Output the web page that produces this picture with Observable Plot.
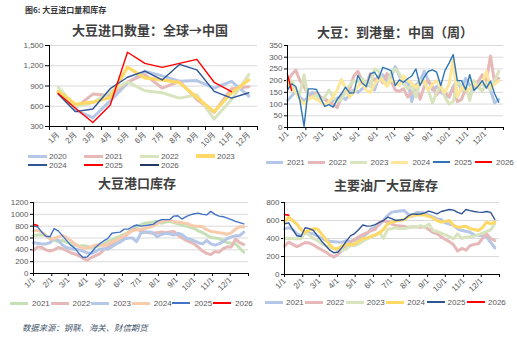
<!DOCTYPE html>
<html><head><meta charset="utf-8">
<script src="https://cdn.jsdelivr.net/npm/d3@7"></script>
<script src="https://cdn.jsdelivr.net/npm/@observablehq/plot@0.6"></script>
<style>
body{margin:0;background:#fff;}
#root{position:relative;width:517px;height:341px;overflow:hidden;font-family:"Liberation Sans","Noto Sans CJK SC",sans-serif;background:#fff;}
.title{position:absolute;font-family:"Noto Sans CJK SC",sans-serif;font-weight:bold;font-size:13px;color:#404040;transform:translateX(-50%);white-space:nowrap;line-height:14px;}
.item{position:absolute;display:flex;align-items:center;height:10px;white-space:nowrap;font-size:8px;color:#595959;font-family:"Liberation Sans",sans-serif;}
.sw{display:inline-block;}
.plot{position:absolute;}
</style></head><body><div id="root"></div>
<script>
// ---------- DATA ----------
const months = ["1月","2月","3月","4月","5月","6月","7月","8月","9月","10月","11月","12月"];
// Panel 1: monthly soybean imports (万吨)
const imp2020 = [800,540,430,680,940,1120,1050,970,980,870,970,750];
const imp2021 = [800,580,780,760,960,1070,870,970,700,510,860,890];
const imp2022 = [880,600,650,810,960,830,800,720,770,410,700,1070];
const imp2023 = [820,630,660,730,1180,1020,990,950,730,520,800,990];
const imp2024 = [780,520,560,860,1030,1120,990,1220,1140,820,720,800];
const imp2025 = [790,570,360,615,1400,1235,1175,1235,1295,955,815];
const imp2026 = [];
// Panel 2: weekly arrivals
const arr2021 = [115,135,155,130,115,130,150,140,125,120,110,115,125,130,120,140,160,150,165,175,190,160,210,225,200,215,260,220,185,200,110,180,200,240,200,160,175,150,140,130,175,200,160,210,180,165,175,185,180,160,105,120];
const arr2022 = [200,225,245,200,175,140,130,150,130,120,110,100,85,130,150,160,220,240,200,180,230,200,220,190,230,200,160,155,165,130,150,180,120,175,200,175,140,160,150,130,170,110,120,165,130,180,195,225,200,305,190,210];
const arr2023 = [175,200,160,145,225,120,130,140,115,130,160,130,110,120,150,180,200,195,210,190,175,250,240,200,180,230,250,230,190,165,180,130,200,190,160,105,150,180,130,100,110,200,175,180,115,200,175,155,190,160,200,240];
const arr2024 = [200,170,150,120,100,120,130,120,110,95,110,130,160,205,170,130,150,175,195,160,150,185,210,200,175,205,190,180,220,200,190,170,190,200,160,185,200,175,150,185,290,130,170,160,165,185,175,190,240,170,185,200];
const arr2025 = [160,186,175,115,5,165,165,162,125,90,98,87,120,144,172,147,148,222,190,175,229,236,208,257,250,243,179,203,193,208,220,250,179,215,240,246,236,179,243,275,311,200,200,161,225,158,176,200,168,198,144,108];
const arr2026 = [225,158];
// Panel 3: port soybean inventory (weekly)
const port2021 = [640,650,650,640,600,560,540,560,530,500,480,460,470,460,440,450,470,500,540,570,600,630,660,700,740,790,820,850,860,870,880,850,870,880,860,840,820,800,780,760,720,690,650,610,600,590,560,520,510,500,430,360];
const port2022 = [390,450,440,400,380,400,440,420,390,350,330,300,260,220,270,300,330,400,450,500,540,560,620,680,740,750,720,700,690,680,690,700,690,700,710,650,600,560,530,500,440,380,340,320,370,360,420,450,450,580,520,490];
const port2023 = [520,510,500,500,520,600,560,480,440,420,410,400,380,350,340,370,410,420,410,450,500,530,580,600,600,540,680,700,700,690,620,660,680,670,650,680,660,600,580,550,520,500,560,500,480,500,540,590,620,640,640,700];
const port2024 = [720,730,700,640,580,590,620,640,610,560,500,460,430,430,450,480,480,470,500,530,560,600,640,680,720,740,750,760,780,800,840,880,900,900,880,870,860,850,820,800,800,790,740,710,700,690,680,660,690,750,790,790];
const port2025 = [800,790,700,630,620,760,720,640,560,480,430,340,270,280,350,440,500,550,590,680,690,700,750,750,790,820,800,810,820,830,880,910,910,910,970,975,920,960,990,1010,1020,1000,990,1050,1000,970,960,935,910,880,860,840];
const port2026 = [830,810];
// Panel 4: major mills soybean inventory (weekly)
const mill2021 = [507,520,500,452,433,459,455,452,430,400,380,370,365,360,359,375,367,380,400,426,452,507,526,552,600,655,693,700,705,711,670,648,690,690,680,660,640,618,610,574,560,544,507,489,480,470,440,433,430,415,359,295];
const mill2022 = [315,359,335,310,330,355,350,330,300,275,250,215,195,225,267,310,360,390,420,445,463,489,500,575,595,590,560,545,540,535,526,530,528,526,530,500,465,452,420,390,365,330,260,290,270,320,335,341,400,452,400,378];
const mill2023 = [404,400,396,396,396,470,440,400,378,345,320,304,290,275,267,285,322,322,340,370,396,415,433,470,400,500,510,520,510,510,520,537,526,544,526,563,489,478,460,440,420,396,452,400,415,420,426,441,460,478,495,563];
const mill2024 = [580,637,600,560,500,470,490,507,505,450,390,330,285,290,320,335,330,340,370,400,405,425,440,460,500,563,580,595,600,611,640,655,660,660,663,645,626,600,581,590,600,544,526,530,537,510,500,489,520,581,563,581];
const mill2025 = [563,574,500,430,422,520,510,490,430,370,320,270,241,250,304,370,430,455,500,550,537,540,555,580,600,637,620,600,605,611,650,674,670,672,685,705,690,674,700,711,722,715,690,674,722,710,700,693,690,700,690,611];
const mill2026 = [665,660];

// ---------- STYLES ----------
const st1 = {"2020":["#b4c7e7",3],"2021":["#e6b9b8",3],"2022":["#d7e4bd",3],"2023":["#ffd966",3.2],"2024":["#2f5597",1.4],"2025":["#ff0000",1.4],"2026":["#1f3864",2.6]};
const st2 = {"2021":["#b4c7e7",3],"2022":["#e6b9b8",3],"2023":["#d7e4bd",3],"2024":["#ffe699",3],"2025":["#2e75b6",1.4],"2026":["#ff0000",1.4]};
const st3 = {"2021":["#c5e0b4",3],"2022":["#e6b9b8",3],"2023":["#b4c7e7",3],"2024":["#f8cbad",3],"2025":["#4472c4",1.4],"2026":["#ff0000",1.6]};
const st4 = {"2021":["#b4c7e7",3],"2022":["#e6b9b8",3],"2023":["#d7e4bd",3],"2024":["#ffd966",3],"2025":["#2f5597",1.4],"2026":["#ff0000",1.6]};

const root = document.getElementById("root");
const FONT = '"Liberation Sans","Noto Sans CJK SC",sans-serif';

function place(el, left, top){ el.classList.add("plot"); el.style.left = left+"px"; el.style.top = top+"px"; root.appendChild(el); }
function text(str, cls, css){ const d = document.createElement("div"); d.className = cls||""; d.textContent = str; Object.assign(d.style, css); root.appendChild(d); return d; }

function legend(names, st, {left, cy, spacing, sw, gap, perRow = 99, rowGap = 9}){
  names.forEach((n, i) => {
    const r = Math.floor(i / perRow), c = i % perRow;
    const it = document.createElement("div");
    it.className = "item";
    it.style.left = (left + c*spacing) + "px";
    it.style.top = (cy + r*rowGap - 5) + "px";
    const s = document.createElement("span");
    s.className = "sw";
    s.style.width = sw + "px"; s.style.height = Math.max(1.4, st[n][1]) + "px";
    s.style.background = st[n][0]; s.style.marginRight = gap + "px";
    it.appendChild(s);
    it.appendChild(document.createTextNode(n));
    root.appendChild(it);
  });
}

// Panel 1 (monthly)
function monthlyChart(series, st){
  const data = series.flatMap(([name, vals]) => vals.map((v,i) => ({name, m: i + 0.5, v})));
  return Plot.plot({
    width: 262, height: 115, marginLeft: 49, marginRight: 5, marginTop: 7, marginBottom: 27,
    style: {fontFamily: FONT, fontSize: "8px", background: "transparent", overflow: "visible"},
    x: {domain: [0, 12]}, y: {domain: [300, 1500]},
    marks: [
      Plot.gridY([600,900,1200,1500], {stroke: "#d9d9d9", strokeOpacity: 1}),
      Plot.axisY([300,600,900,1200,1500], {label: null, tickSize: 4, tickPadding: 2, tickFormat: d3.format(","), fill: "#595959", stroke: "#000", fontSize: 8}),
      Plot.axisX(d3.range(0, 13), {label: null, tickSize: 4, tickFormat: () => "", stroke: "#000"}),
      Plot.axisX(months.map((m,i) => i + 0.5), {label: null, tickSize: 0, tickPadding: 7, tickRotate: -45, tickFormat: d => months[Math.floor(d)], fill: "#595959", fontSize: 8}),
      ...series.map(([name]) => Plot.line(data.filter(d => d.name === name), {x: "m", y: "v", stroke: st[name][0], strokeWidth: st[name][1]})),
      Plot.ruleX([0], {stroke: "#000"}),
      Plot.ruleY([300], {stroke: "#000"})
    ]
  });
}

// Weekly charts
const start = new Date(Date.UTC(2025,0,1)), end = new Date(Date.UTC(2026,0,1));
function weeklyChart(series, st, {width, height, ml, mr, mt, mb, yMax, yStep}){
  const data = series.flatMap(([name, vals]) => vals.map((v,i) => ({name, date: d3.utcDay.offset(start, 7*i), v})));
  const ticks = d3.utcMonth.range(start, end);
  return Plot.plot({
    width, height, marginLeft: ml, marginRight: mr, marginTop: mt, marginBottom: mb,
    style: {fontFamily: FONT, fontSize: "8px", background: "transparent", overflow: "visible"},
    x: {type: "utc", domain: [start, end]}, y: {domain: [0, yMax]},
    marks: [
      Plot.gridY(d3.range(yStep, yMax + 1, yStep), {stroke: "#d9d9d9", strokeOpacity: 1}),
      Plot.axisY(d3.range(0, yMax + 1, yStep), {label: null, tickSize: 3, tickPadding: 2, tickFormat: d => String(d), fill: "#595959", stroke: "#000", fontSize: 8}),
      Plot.axisX([...ticks, end], {label: null, tickSize: 3, tickPadding: 2, tickRotate: -45, tickFormat: d => d < end ? `${d.getUTCMonth()+1}/1` : "", fill: "#595959", stroke: "#000", fontSize: 8}),
      ...series.map(([name]) => Plot.line(data.filter(d => d.name === name), {x: "date", y: "v", stroke: st[name][0], strokeWidth: st[name][1]})),
      Plot.ruleX([start], {stroke: "#000"}),
      Plot.ruleY([0], {stroke: "#000"})
    ]
  });
}

// header
text("图6: 大豆进口量和库存", "", {position:"absolute", left:"25px", top:"5px", fontSize:"8px", fontWeight:"bold", color:"#333", fontFamily:'"Noto Sans CJK SC",sans-serif', lineHeight:"10px", whiteSpace:"nowrap"});

// Panel 1
const s1 = [["2020",imp2020],["2021",imp2021],["2022",imp2022],["2023",imp2023],["2024",imp2024],["2025",imp2025],["2026",imp2026]];
text("大豆进口数量：全球→中国", "title", {left:"150px", top:"23px"});
place(monthlyChart(s1, st1), 0, 38);
legend(s1.map(d=>d[0]), st1, {left: 28, cy: 156, spacing: 56, sw: 19, gap: 2, perRow: 4, rowGap: 9});

// Panel 2
const s2 = [["2021",arr2021],["2022",arr2022],["2023",arr2023],["2024",arr2024],["2025",arr2025],["2026",arr2026]];
text("大豆：到港量：中国（周）", "title", {left:"395px", top:"25px"});
place(weeklyChart(s2, st2, {width: 259, height: 115, ml: 29, mr: 14, mt: 7, mb: 26, yMax: 350, yStep: 50}), 258, 38);
legend(s2.map(d=>d[0]), st2, {left: 266, cy: 162, spacing: 41.8, sw: 17, gap: 4});

// Panel 3
const s3 = [["2021",port2021],["2022",port2022],["2023",port2023],["2024",port2024],["2025",port2025],["2026",port2026]];
text("大豆港口库存", "title", {left:"137px", top:"176px"});
place(weeklyChart(s3, st3, {width: 258, height: 102, ml: 33, mr: 10, mt: 7, mb: 24, yMax: 1200, yStep: 200}), 0, 195);
legend(s3.map(d=>d[0]), st3, {left: 10, cy: 303, spacing: 40.6, sw: 18, gap: 4});

// Panel 4
const s4 = [["2021",mill2021],["2022",mill2022],["2023",mill2023],["2024",mill2024],["2025",mill2025],["2026",mill2026]];
text("主要油厂大豆库存", "title", {left:"386px", top:"178px"});
place(weeklyChart(s4, st4, {width: 259, height: 103, ml: 26, mr: 18, mt: 7, mb: 24, yMax: 800, yStep: 200}), 258, 195);
legend(s4.map(d=>d[0]), st4, {left: 265, cy: 302, spacing: 40.4, sw: 18, gap: 3});

// source
text("数据来源：钢联、海关、财信期货", "", {position:"absolute", left:"22px", top:"322px", fontSize:"8.4px", fontStyle:"italic", color:"#44546a", fontFamily:'"Noto Sans CJK SC",sans-serif', lineHeight:"10px", whiteSpace:"nowrap"});
</script></body></html>
